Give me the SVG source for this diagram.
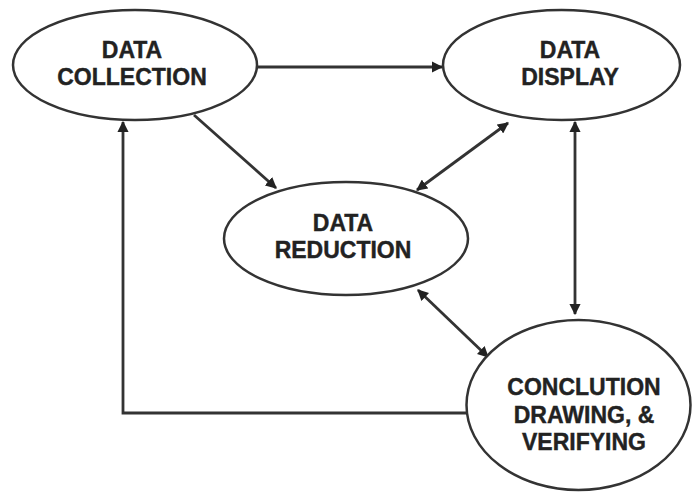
<svg xmlns="http://www.w3.org/2000/svg" width="692" height="499" viewBox="0 0 692 499">
<style>
.node ellipse{fill:#fff;stroke:#333;stroke-width:2.5}
.node text{font-family:"Liberation Sans",Arial,sans-serif;font-weight:bold;font-size:23px;fill:#222;text-anchor:middle;stroke:#222;stroke-width:0.4}
.conn path{fill:none;stroke:#333;stroke-width:2.8}
</style>
<defs>
<marker id="ah" viewBox="0 0 10 10" refX="9" refY="5" markerWidth="4" markerHeight="4" orient="auto-start-reverse" markerUnits="strokeWidth">
<path d="M0,0 L10,5 L0,10 z" fill="#222"/>
</marker>
</defs>
<rect width="692" height="499" fill="#fff"/>
<g id="connectors" class="conn">
<path d="M257,67 L442,67" marker-end="url(#ah)"/>
<path d="M194,115 L276,188" marker-end="url(#ah)"/>
<path d="M508,123 L417,190" marker-start="url(#ah)" marker-end="url(#ah)"/>
<path d="M575,122 L575,314" marker-start="url(#ah)" marker-end="url(#ah)"/>
<path d="M418,290 L488,357" marker-start="url(#ah)" marker-end="url(#ah)"/>
<path d="M467,413 L123,413 L123,122" marker-end="url(#ah)"/>
</g>
<g id="data-collection" class="node">
<ellipse cx="135" cy="65" rx="122" ry="55"/>
<text x="132" y="58">DATA</text>
<text x="132" y="85">COLLECTION</text>
</g>
<g id="data-display" class="node">
<ellipse cx="561.5" cy="65" rx="118.5" ry="55"/>
<text x="570" y="58">DATA</text>
<text x="570" y="85">DISPLAY</text>
</g>
<g id="data-reduction" class="node">
<ellipse cx="346" cy="238.5" rx="122" ry="56.5"/>
<text x="343" y="231">DATA</text>
<text x="343" y="258">REDUCTION</text>
</g>
<g id="conclusion" class="node">
<ellipse cx="578.5" cy="405" rx="112" ry="85"/>
<text x="584" y="395">CONCLUTION</text>
<text x="584" y="423">DRAWING, &amp;</text>
<text x="584" y="450">VERIFYING</text>
</g>
</svg>
